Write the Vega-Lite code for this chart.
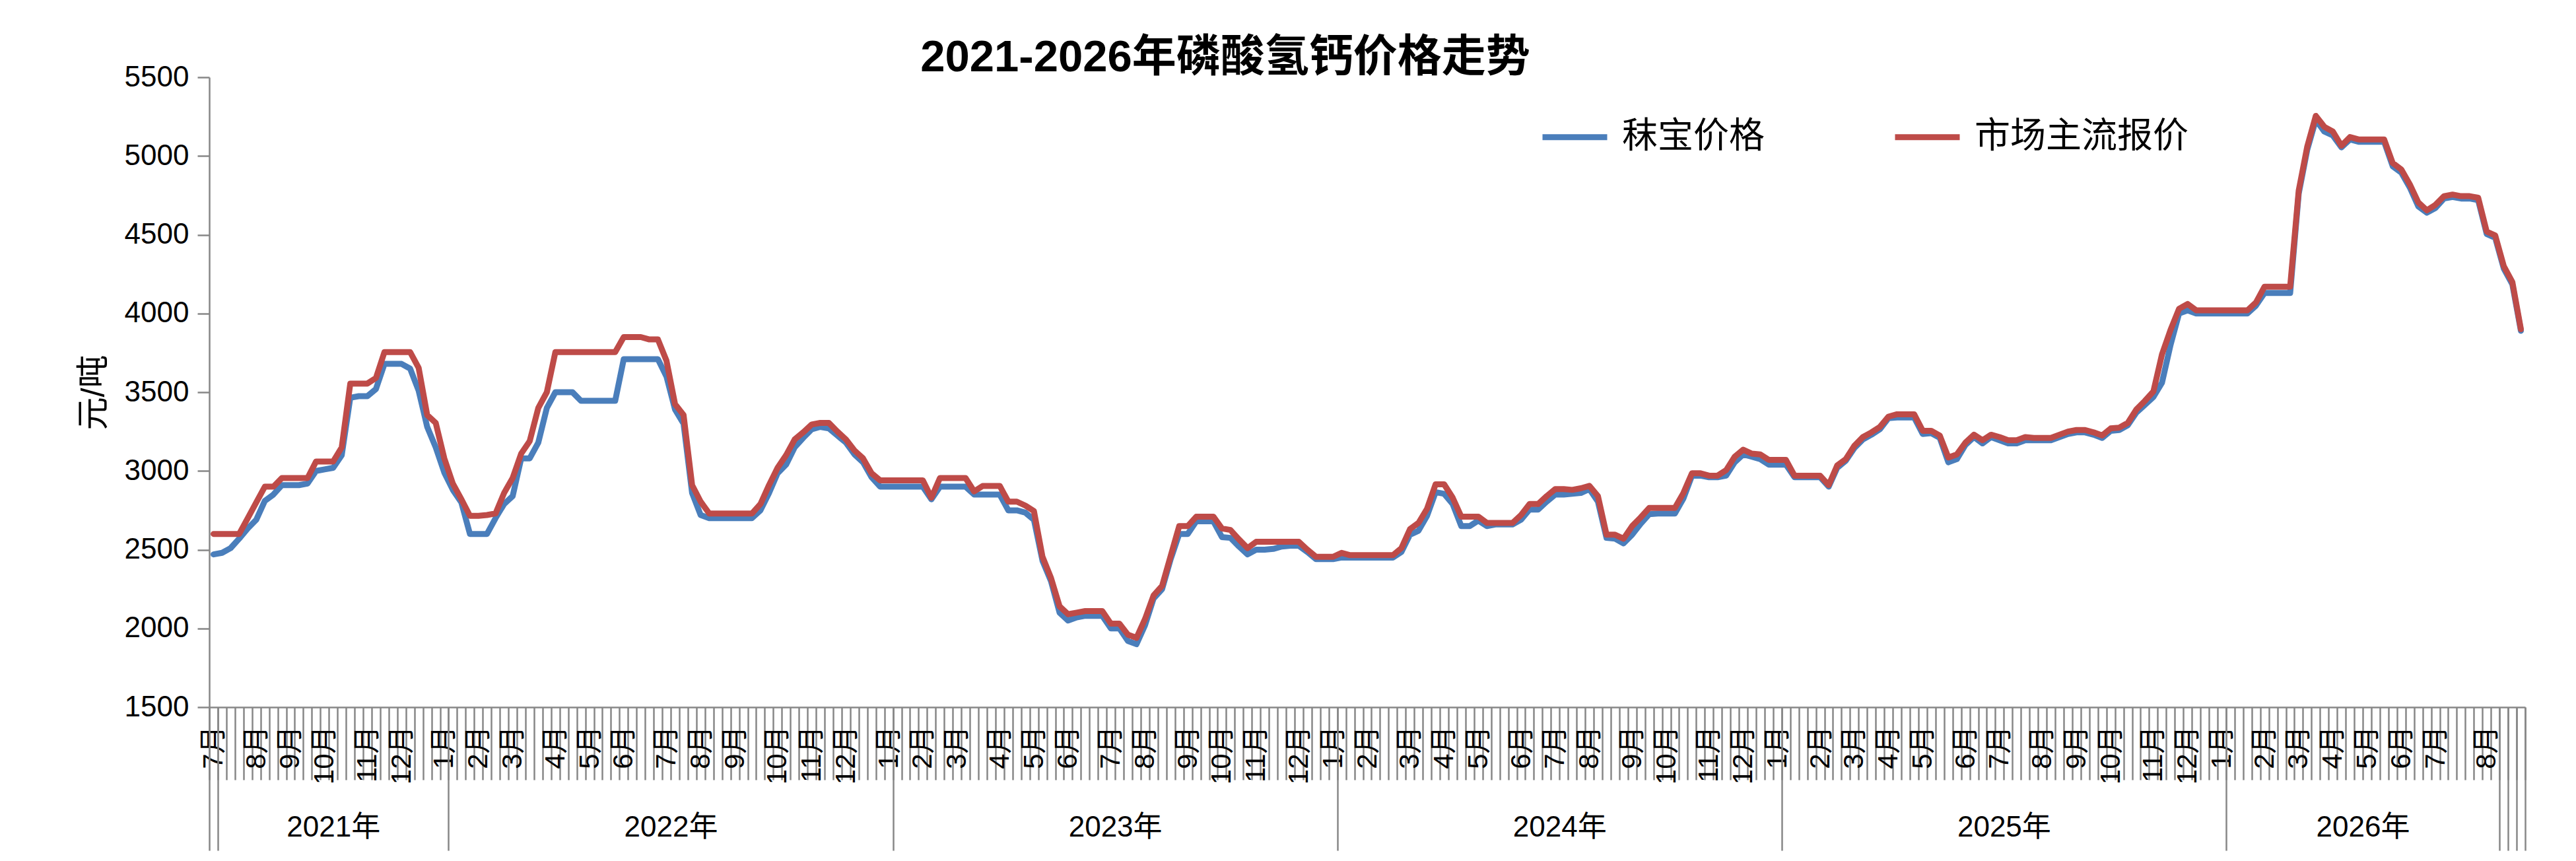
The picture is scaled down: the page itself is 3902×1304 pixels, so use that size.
{
"$schema": "https://vega.github.io/schema/vega-lite/v6.json",
"width": 3508,
"height": 954,
"autosize": {"type": "none"},
"padding": {"left": 317, "top": 117, "right": 77, "bottom": 233},
"background": "white",
"config": {"view": {"stroke": null}, "font": "Liberation Sans, Noto Sans CJK SC"},
"title": {"text": "2021-2026年磷酸氢钙价格走势", "fontSize": 67, "fontWeight": "bold", "color": "black", "anchor": "middle", "frame": "group", "dx": -215, "offset": -27},
"datasets": {
"years": [
{"yr": "2021年", "s": 1, "mid": 14.5},
{"yr": "2022年", "s": 28, "mid": 54},
{"yr": "2023年", "s": 80, "mid": 106},
{"yr": "2024年", "s": 132, "mid": 158},
{"yr": "2025年", "s": 184, "mid": 210},
{"yr": "2026年", "s": 236, "mid": 252}
],
"weeks": [
{"k":"000|7月","秣宝价格":2470,"市场主流报价":2600},
{"k":"001|","秣宝价格":2480,"市场主流报价":2600},
{"k":"002|","秣宝价格":2510,"市场主流报价":2600},
{"k":"003|","秣宝价格":2570,"市场主流报价":2600},
{"k":"004|","秣宝价格":2635,"市场主流报价":2700},
{"k":"005|8月","秣宝价格":2690,"市场主流报价":2800},
{"k":"006|","秣宝价格":2810,"市场主流报价":2900},
{"k":"007|","秣宝价格":2850,"市场主流报价":2900},
{"k":"008|","秣宝价格":2910,"市场主流报价":2955},
{"k":"009|9月","秣宝价格":2910,"市场主流报价":2955},
{"k":"010|","秣宝价格":2910,"市场主流报价":2955},
{"k":"011|","秣宝价格":2920,"市场主流报价":2955},
{"k":"012|","秣宝价格":3000,"市场主流报价":3060},
{"k":"013|10月","秣宝价格":3010,"市场主流报价":3060},
{"k":"014|","秣宝价格":3020,"市场主流报价":3060},
{"k":"015|","秣宝价格":3100,"市场主流报价":3150},
{"k":"016|","秣宝价格":3465,"市场主流报价":3555},
{"k":"017|","秣宝价格":3475,"市场主流报价":3555},
{"k":"018|11月","秣宝价格":3475,"市场主流报价":3555},
{"k":"019|","秣宝价格":3520,"市场主流报价":3590},
{"k":"020|","秣宝价格":3680,"市场主流报价":3755},
{"k":"021|","秣宝价格":3680,"市场主流报价":3755},
{"k":"022|12月","秣宝价格":3680,"市场主流报价":3755},
{"k":"023|","秣宝价格":3650,"市场主流报价":3755},
{"k":"024|","秣宝价格":3510,"市场主流报价":3655},
{"k":"025|","秣宝价格":3280,"市场主流报价":3355},
{"k":"026|","秣宝价格":3150,"市场主流报价":3305},
{"k":"027|1月","秣宝价格":2990,"市场主流报价":3080},
{"k":"028|","秣宝价格":2880,"市场主流报价":2920},
{"k":"029|","秣宝价格":2800,"市场主流报价":2820},
{"k":"030|","秣宝价格":2600,"市场主流报价":2715},
{"k":"031|2月","秣宝价格":2600,"市场主流报价":2715},
{"k":"032|","秣宝价格":2600,"市场主流报价":2720},
{"k":"033|","秣宝价格":2700,"市场主流报价":2730},
{"k":"034|","秣宝价格":2790,"市场主流报价":2860},
{"k":"035|3月","秣宝价格":2840,"市场主流报价":2955},
{"k":"036|","秣宝价格":3080,"市场主流报价":3110},
{"k":"037|","秣宝价格":3080,"市场主流报价":3190},
{"k":"038|","秣宝价格":3180,"市场主流报价":3400},
{"k":"039|","秣宝价格":3400,"市场主流报价":3500},
{"k":"040|4月","秣宝价格":3500,"市场主流报价":3755},
{"k":"041|","秣宝价格":3500,"市场主流报价":3755},
{"k":"042|","秣宝价格":3500,"市场主流报价":3755},
{"k":"043|","秣宝价格":3445,"市场主流报价":3755},
{"k":"044|5月","秣宝价格":3445,"市场主流报价":3755},
{"k":"045|","秣宝价格":3445,"市场主流报价":3755},
{"k":"046|","秣宝价格":3445,"市场主流报价":3755},
{"k":"047|","秣宝价格":3445,"市场主流报价":3755},
{"k":"048|6月","秣宝价格":3710,"市场主流报价":3850},
{"k":"049|","秣宝价格":3710,"市场主流报价":3850},
{"k":"050|","秣宝价格":3710,"市场主流报价":3850},
{"k":"051|","秣宝价格":3710,"市场主流报价":3835},
{"k":"052|","秣宝价格":3710,"市场主流报价":3835},
{"k":"053|7月","秣宝价格":3600,"市场主流报价":3700},
{"k":"054|","秣宝价格":3390,"市场主流报价":3425},
{"k":"055|","秣宝价格":3300,"市场主流报价":3355},
{"k":"056|","秣宝价格":2860,"市场主流报价":2910},
{"k":"057|8月","秣宝价格":2720,"市场主流报价":2805},
{"k":"058|","秣宝价格":2700,"市场主流报价":2730},
{"k":"059|","秣宝价格":2700,"市场主流报价":2730},
{"k":"060|","秣宝价格":2700,"市场主流报价":2730},
{"k":"061|9月","秣宝价格":2700,"市场主流报价":2730},
{"k":"062|","秣宝价格":2700,"市场主流报价":2730},
{"k":"063|","秣宝价格":2700,"市场主流报价":2730},
{"k":"064|","秣宝价格":2750,"市场主流报价":2790},
{"k":"065|","秣宝价格":2860,"市场主流报价":2910},
{"k":"066|10月","秣宝价格":2985,"市场主流报价":3020},
{"k":"067|","秣宝价格":3040,"市场主流报价":3100},
{"k":"068|","秣宝价格":3150,"市场主流报价":3200},
{"k":"069|","秣宝价格":3210,"市场主流报价":3245},
{"k":"070|11月","秣宝价格":3265,"市场主流报价":3295},
{"k":"071|","秣宝价格":3280,"市场主流报价":3305},
{"k":"072|","秣宝价格":3270,"市场主流报价":3305},
{"k":"073|","秣宝价格":3225,"市场主流报价":3250},
{"k":"074|12月","秣宝价格":3180,"市场主流报价":3200},
{"k":"075|","秣宝价格":3105,"市场主流报价":3130},
{"k":"076|","秣宝价格":3055,"市场主流报价":3080},
{"k":"077|","秣宝价格":2960,"市场主流报价":2985},
{"k":"078|","秣宝价格":2900,"市场主流报价":2940},
{"k":"079|1月","秣宝价格":2900,"市场主流报价":2940},
{"k":"080|","秣宝价格":2900,"市场主流报价":2940},
{"k":"081|","秣宝价格":2900,"市场主流报价":2940},
{"k":"082|","秣宝价格":2900,"市场主流报价":2940},
{"k":"083|2月","秣宝价格":2900,"市场主流报价":2940},
{"k":"084|","秣宝价格":2820,"市场主流报价":2830},
{"k":"085|","秣宝价格":2900,"市场主流报价":2955},
{"k":"086|","秣宝价格":2900,"市场主流报价":2955},
{"k":"087|3月","秣宝价格":2900,"市场主流报价":2955},
{"k":"088|","秣宝价格":2900,"市场主流报价":2955},
{"k":"089|","秣宝价格":2850,"市场主流报价":2870},
{"k":"090|","秣宝价格":2850,"市场主流报价":2905},
{"k":"091|","秣宝价格":2850,"市场主流报价":2905},
{"k":"092|4月","秣宝价格":2850,"市场主流报价":2905},
{"k":"093|","秣宝价格":2750,"市场主流报价":2805},
{"k":"094|","秣宝价格":2750,"市场主流报价":2805},
{"k":"095|","秣宝价格":2735,"市场主流报价":2780},
{"k":"096|5月","秣宝价格":2690,"市场主流报价":2745},
{"k":"097|","秣宝价格":2430,"市场主流报价":2455},
{"k":"098|","秣宝价格":2300,"市场主流报价":2320},
{"k":"099|","秣宝价格":2100,"市场主流报价":2140},
{"k":"100|6月","秣宝价格":2050,"市场主流报价":2090},
{"k":"101|","秣宝价格":2070,"市场主流报价":2100},
{"k":"102|","秣宝价格":2080,"市场主流报价":2110},
{"k":"103|","秣宝价格":2080,"市场主流报价":2110},
{"k":"104|","秣宝价格":2080,"市场主流报价":2110},
{"k":"105|7月","秣宝价格":2000,"市场主流报价":2030},
{"k":"106|","秣宝价格":2000,"市场主流报价":2030},
{"k":"107|","秣宝价格":1920,"市场主流报价":1960},
{"k":"108|","秣宝价格":1900,"市场主流报价":1940},
{"k":"109|8月","秣宝价格":2020,"市场主流报价":2060},
{"k":"110|","秣宝价格":2190,"市场主流报价":2210},
{"k":"111|","秣宝价格":2250,"市场主流报价":2270},
{"k":"112|","秣宝价格":2440,"市场主流报价":2460},
{"k":"113|","秣宝价格":2600,"市场主流报价":2650},
{"k":"114|9月","秣宝价格":2600,"市场主流报价":2650},
{"k":"115|","秣宝价格":2680,"市场主流报价":2710},
{"k":"116|","秣宝价格":2680,"市场主流报价":2710},
{"k":"117|","秣宝价格":2680,"市场主流报价":2710},
{"k":"118|10月","秣宝价格":2580,"市场主流报价":2635},
{"k":"119|","秣宝价格":2575,"市场主流报价":2625},
{"k":"120|","秣宝价格":2520,"市场主流报价":2565},
{"k":"121|","秣宝价格":2470,"市场主流报价":2510},
{"k":"122|11月","秣宝价格":2500,"市场主流报价":2550},
{"k":"123|","秣宝价格":2500,"市场主流报价":2550},
{"k":"124|","秣宝价格":2505,"市场主流报价":2550},
{"k":"125|","秣宝价格":2520,"市场主流报价":2550},
{"k":"126|","秣宝价格":2525,"市场主流报价":2550},
{"k":"127|12月","秣宝价格":2525,"市场主流报价":2550},
{"k":"128|","秣宝价格":2485,"市场主流报价":2500},
{"k":"129|","秣宝价格":2440,"市场主流报价":2455},
{"k":"130|","秣宝价格":2440,"市场主流报价":2455},
{"k":"131|1月","秣宝价格":2440,"市场主流报价":2455},
{"k":"132|","秣宝价格":2450,"市场主流报价":2480},
{"k":"133|","秣宝价格":2450,"市场主流报价":2465},
{"k":"134|","秣宝价格":2450,"市场主流报价":2465},
{"k":"135|2月","秣宝价格":2450,"市场主流报价":2465},
{"k":"136|","秣宝价格":2450,"市场主流报价":2465},
{"k":"137|","秣宝价格":2450,"市场主流报价":2465},
{"k":"138|","秣宝价格":2450,"市场主流报价":2465},
{"k":"139|","秣宝价格":2485,"市场主流报价":2510},
{"k":"140|3月","秣宝价格":2595,"市场主流报价":2630},
{"k":"141|","秣宝价格":2620,"市场主流报价":2670},
{"k":"142|","秣宝价格":2715,"市场主流报价":2760},
{"k":"143|","秣宝价格":2865,"市场主流报价":2915},
{"k":"144|4月","秣宝价格":2855,"市场主流报价":2915},
{"k":"145|","秣宝价格":2790,"市场主流报价":2830},
{"k":"146|","秣宝价格":2650,"市场主流报价":2710},
{"k":"147|","秣宝价格":2650,"市场主流报价":2710},
{"k":"148|5月","秣宝价格":2685,"市场主流报价":2710},
{"k":"149|","秣宝价格":2650,"市场主流报价":2670},
{"k":"150|","秣宝价格":2660,"市场主流报价":2670},
{"k":"151|","秣宝价格":2660,"市场主流报价":2670},
{"k":"152|","秣宝价格":2660,"市场主流报价":2670},
{"k":"153|6月","秣宝价格":2690,"市场主流报价":2720},
{"k":"154|","秣宝价格":2755,"市场主流报价":2790},
{"k":"155|","秣宝价格":2755,"市场主流报价":2790},
{"k":"156|","秣宝价格":2805,"市场主流报价":2840},
{"k":"157|7月","秣宝价格":2850,"市场主流报价":2885},
{"k":"158|","秣宝价格":2850,"市场主流报价":2885},
{"k":"159|","秣宝价格":2855,"市场主流报价":2880},
{"k":"160|","秣宝价格":2860,"市场主流报价":2890},
{"k":"161|8月","秣宝价格":2885,"市场主流报价":2905},
{"k":"162|","秣宝价格":2805,"市场主流报价":2840},
{"k":"163|","秣宝价格":2575,"市场主流报价":2595},
{"k":"164|","秣宝价格":2570,"市场主流报价":2595},
{"k":"165|","秣宝价格":2540,"市场主流报价":2570},
{"k":"166|9月","秣宝价格":2595,"市场主流报价":2650},
{"k":"167|","秣宝价格":2665,"市场主流报价":2705},
{"k":"168|","秣宝价格":2725,"市场主流报价":2765},
{"k":"169|","秣宝价格":2730,"市场主流报价":2765},
{"k":"170|10月","秣宝价格":2730,"市场主流报价":2765},
{"k":"171|","秣宝价格":2730,"市场主流报价":2765},
{"k":"172|","秣宝价格":2825,"市场主流报价":2860},
{"k":"173|","秣宝价格":2970,"市场主流报价":2985},
{"k":"174|","秣宝价格":2970,"市场主流报价":2985},
{"k":"175|11月","秣宝价格":2960,"市场主流报价":2970},
{"k":"176|","秣宝价格":2960,"市场主流报价":2970},
{"k":"177|","秣宝价格":2970,"市场主流报价":3005},
{"k":"178|","秣宝价格":3055,"市场主流报价":3090},
{"k":"179|12月","秣宝价格":3105,"市场主流报价":3135},
{"k":"180|","秣宝价格":3090,"市场主流报价":3110},
{"k":"181|","秣宝价格":3075,"市场主流报价":3105},
{"k":"182|","秣宝价格":3040,"市场主流报价":3070},
{"k":"183|1月","秣宝价格":3040,"市场主流报价":3070},
{"k":"184|","秣宝价格":3040,"市场主流报价":3070},
{"k":"185|","秣宝价格":2960,"市场主流报价":2970},
{"k":"186|","秣宝价格":2960,"市场主流报价":2970},
{"k":"187|","秣宝价格":2960,"市场主流报价":2970},
{"k":"188|2月","秣宝价格":2960,"市场主流报价":2970},
{"k":"189|","秣宝价格":2900,"市场主流报价":2910},
{"k":"190|","秣宝价格":3020,"市场主流报价":3035},
{"k":"191|","秣宝价格":3065,"市场主流报价":3075},
{"k":"192|3月","秣宝价格":3145,"市场主流报价":3160},
{"k":"193|","秣宝价格":3200,"市场主流报价":3215},
{"k":"194|","秣宝价格":3230,"市场主流报价":3245},
{"k":"195|","秣宝价格":3265,"市场主流报价":3280},
{"k":"196|4月","秣宝价格":3335,"市场主流报价":3345},
{"k":"197|","秣宝价格":3340,"市场主流报价":3360},
{"k":"198|","秣宝价格":3340,"市场主流报价":3360},
{"k":"199|","秣宝价格":3340,"市场主流报价":3360},
{"k":"200|5月","秣宝价格":3235,"市场主流报价":3255},
{"k":"201|","秣宝价格":3240,"市场主流报价":3255},
{"k":"202|","秣宝价格":3210,"市场主流报价":3225},
{"k":"203|","秣宝价格":3055,"市场主流报价":3085},
{"k":"204|","秣宝价格":3075,"市场主流报价":3105},
{"k":"205|6月","秣宝价格":3165,"市场主流报价":3180},
{"k":"206|","秣宝价格":3215,"市场主流报价":3230},
{"k":"207|","秣宝价格":3175,"市场主流报价":3195},
{"k":"208|","秣宝价格":3215,"市场主流报价":3230},
{"k":"209|7月","秣宝价格":3195,"市场主流报价":3215},
{"k":"210|","秣宝价格":3175,"市场主流报价":3195},
{"k":"211|","秣宝价格":3175,"市场主流报价":3195},
{"k":"212|","秣宝价格":3195,"市场主流报价":3215},
{"k":"213|","秣宝价格":3195,"市场主流报价":3210},
{"k":"214|8月","秣宝价格":3195,"市场主流报价":3210},
{"k":"215|","秣宝价格":3195,"市场主流报价":3210},
{"k":"216|","秣宝价格":3215,"市场主流报价":3230},
{"k":"217|","秣宝价格":3235,"市场主流报价":3250},
{"k":"218|9月","秣宝价格":3245,"市场主流报价":3260},
{"k":"219|","秣宝价格":3245,"市场主流报价":3260},
{"k":"220|","秣宝价格":3230,"市场主流报价":3245},
{"k":"221|","秣宝价格":3210,"市场主流报价":3225},
{"k":"222|10月","秣宝价格":3255,"市场主流报价":3270},
{"k":"223|","秣宝价格":3260,"市场主流报价":3275},
{"k":"224|","秣宝价格":3290,"市场主流报价":3305},
{"k":"225|","秣宝价格":3370,"市场主流报价":3390},
{"k":"226|","秣宝价格":3420,"市场主流报价":3445},
{"k":"227|11月","秣宝价格":3470,"市场主流报价":3505},
{"k":"228|","秣宝价格":3560,"市场主流报价":3740},
{"k":"229|","秣宝价格":3800,"市场主流报价":3895},
{"k":"230|","秣宝价格":4000,"市场主流报价":4030},
{"k":"231|12月","秣宝价格":4020,"市场主流报价":4060},
{"k":"232|","秣宝价格":4000,"市场主流报价":4020},
{"k":"233|","秣宝价格":4000,"市场主流报价":4020},
{"k":"234|","秣宝价格":4000,"市场主流报价":4020},
{"k":"235|1月","秣宝价格":4000,"市场主流报价":4020},
{"k":"236|","秣宝价格":4000,"市场主流报价":4020},
{"k":"237|","秣宝价格":4000,"市场主流报价":4020},
{"k":"238|","秣宝价格":4000,"市场主流报价":4020},
{"k":"239|","秣宝价格":4050,"市场主流报价":4070},
{"k":"240|2月","秣宝价格":4130,"市场主流报价":4170},
{"k":"241|","秣宝价格":4130,"市场主流报价":4170},
{"k":"242|","秣宝价格":4130,"市场主流报价":4170},
{"k":"243|","秣宝价格":4130,"市场主流报价":4170},
{"k":"244|3月","秣宝价格":4760,"市场主流报价":4780},
{"k":"245|","秣宝价格":5040,"市场主流报价":5060},
{"k":"246|","秣宝价格":5230,"市场主流报价":5255},
{"k":"247|","秣宝价格":5155,"市场主流报价":5185},
{"k":"248|4月","秣宝价格":5130,"市场主流报价":5155},
{"k":"249|","秣宝价格":5055,"市场主流报价":5065},
{"k":"250|","秣宝价格":5105,"市场主流报价":5120},
{"k":"251|","秣宝价格":5090,"市场主流报价":5105},
{"k":"252|5月","秣宝价格":5090,"市场主流报价":5105},
{"k":"253|","秣宝价格":5090,"市场主流报价":5105},
{"k":"254|","秣宝价格":5090,"市场主流报价":5105},
{"k":"255|","秣宝价格":4935,"市场主流报价":4955},
{"k":"256|6月","秣宝价格":4895,"市场主流报价":4915},
{"k":"257|","秣宝价格":4800,"市场主流报价":4820},
{"k":"258|","秣宝价格":4680,"市场主流报价":4705},
{"k":"259|","秣宝价格":4640,"市场主流报价":4655},
{"k":"260|7月","秣宝价格":4670,"市场主流报价":4690},
{"k":"261|","秣宝价格":4730,"市场主流报价":4745},
{"k":"262|","秣宝价格":4740,"市场主流报价":4755},
{"k":"263|","秣宝价格":4730,"市场主流报价":4745},
{"k":"264|","秣宝价格":4730,"市场主流报价":4745},
{"k":"265|","秣宝价格":4720,"市场主流报价":4735},
{"k":"266|8月","秣宝价格":4505,"市场主流报价":4520},
{"k":"267|","秣宝价格":4480,"市场主流报价":4495},
{"k":"268|","秣宝价格":4285,"市场主流报价":4300},
{"k":"269|","秣宝价格":4185,"市场主流报价":4200},
{"k":"270|","秣宝价格":3890,"市场主流报价":3900}
]
},
"layer": [
{
"data": {"name": "weeks"},
"transform": [{"fold": ["秣宝价格", "市场主流报价"], "as": ["series", "price"]}],
"mark": {"type": "line", "strokeWidth": 9, "strokeJoin": "round", "strokeCap": "round"},
"encoding": {
"x": {"field": "k", "type": "ordinal", "sort": null, "bandPosition": 0.5,
"scale": {"type": "band", "paddingInner": 0, "paddingOuter": 0},
"axis": {"orient": "bottom", "title": null, "labelExpr": "isString(datum.value) ? substring(datum.value, 4) : ''", "labelAngle": -90, "labelFontSize": 42, "labelColor": "black", "labelPadding": -82, "labelOverlap": false, "labelBound": false, "labelFlush": false, "tickBand": "extent", "tickSize": 110, "tickColor": "#878787", "tickWidth": 2.5, "domainColor": "#878787", "domainWidth": 2.5, "grid": false}},
"y": {"field": "price", "type": "quantitative",
"scale": {"domain": [1500, 5500], "nice": false, "zero": false},
"axis": {"values": [1500, 2000, 2500, 3000, 3500, 4000, 4500, 5000, 5500], "format": "d", "title": "元/吨", "titleFontSize": 50, "titleFontWeight": "normal", "titleColor": "black", "titlePadding": 21, "labelFontSize": 44, "labelColor": "black", "labelPadding": 13, "tickSize": 18, "tickColor": "#878787", "tickWidth": 2.5, "domainColor": "#878787", "domainWidth": 2.5, "grid": false}},
"color": {"field": "series", "type": "nominal",
"scale": {"domain": ["秣宝价格", "市场主流报价"], "range": ["#4A7EBB", "#BE4B48"]},
"legend": {"orient": "none", "legendX": 2015, "legendY": 37, "direction": "horizontal", "title": null, "symbolType": "stroke", "symbolStrokeWidth": 9, "symbolSize": 9604, "labelFontSize": 54, "labelColor": "black", "labelOffset": 18, "columnPadding": 179, "labelLimit": 1000}}
}
},
{
"data": {"name": "years"},
"mark": {"type": "rule", "opacity": 0},
"encoding": {
"x": {"field": "s", "type": "quantitative",
"scale": {"domain": [0, 271], "nice": false, "zero": false},
"axis": {"orient": "bottom", "title": null, "values": [0, 1, 28, 80, 132, 184, 236, 268, 269, 270, 271], "labels": false, "domain": false, "grid": false, "tickSize": 217, "tickColor": "#878787", "tickWidth": 2.5}}
}
},
{
"data": {"name": "years"},
"mark": {"type": "rule", "opacity": 0},
"encoding": {
"x": {"field": "mid", "type": "quantitative",
"scale": {"domain": [0, 271], "nice": false, "zero": false},
"axis": {"orient": "bottom", "title": null, "values": [14.5, 54, 106, 158, 210, 252], "labelExpr": "datum.value == 14.5 ? '2021年' : datum.value == 54 ? '2022年' : datum.value == 106 ? '2023年' : datum.value == 158 ? '2024年' : datum.value == 210 ? '2025年' : '2026年'", "ticks": false, "domain": false, "grid": false, "labelFontSize": 44, "labelColor": "black", "labelPadding": 160, "labelBaseline": "top", "labelOverlap": false, "labelFlush": false}}
}
}
],
"resolve": {"scale": {"x": "independent"}, "axis": {"x": "independent"}}
}
